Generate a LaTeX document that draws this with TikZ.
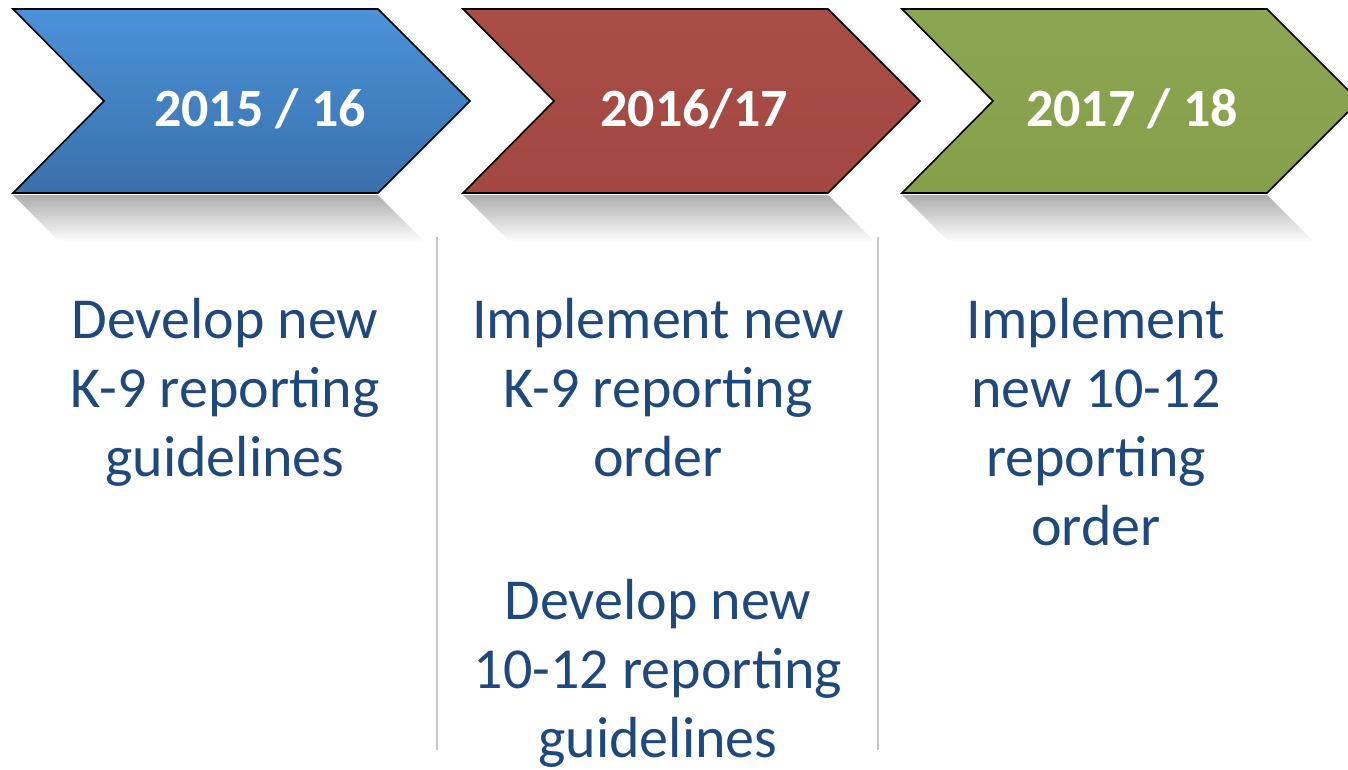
\documentclass[tikz,border=0pt]{standalone}
\usepackage{fontspec}
\setmainfont{Carlito}
\usetikzlibrary{positioning}
\definecolor{txtblue}{HTML}{1F497D}
\definecolor{bluetop}{HTML}{4A92D9}
\definecolor{bluebot}{HTML}{3A70AA}
\definecolor{redtop}{HTML}{A94D47}
\definecolor{redbot}{HTML}{A24741}
\definecolor{greentop}{HTML}{8CA551}
\definecolor{greenbot}{HTML}{869F4B}

\begin{document}
\begin{tikzpicture}[x=1pt,y=-1pt,
    chev/.style={draw=black, line width=1.6pt, line join=miter},
    yearlbl/.style={text=white, inner sep=0pt, anchor=base,
        font=\fontsize{54}{60}\selectfont\bfseries},
    body/.style={text=txtblue, inner sep=0pt, anchor=north, align=center,
        font=\fontsize{58}{69}\selectfont},
    sep/.style={draw=black!22, line width=2.5pt}]

\useasboundingbox (0,0) rectangle (1348,769);

% Reflections under the chevrons
\foreach \x in {13,463,902}
    \shade[top color=black!32, bottom color=white]
        (\x,195) -- (\x+365,195) -- (\x+412,242) -- (\x+47,242) -- cycle;

% Chevrons
\foreach \x/\c in {13/blue, 463/red, 902/green}
    \draw[chev, top color=\c top, bottom color=\c bot]
        (\x,9) -- (\x+365,9) -- (\x+457,101) -- (\x+365,193)
        -- (\x,193) -- (\x+91,101) -- cycle;

% Years
\node[yearlbl] (yr1) at (260,126) {2015 / 16};
\node[yearlbl] (yr2) at (694,126) {2016/17};
\node[yearlbl] (yr3) at (1132,126) {2017 / 18};

% Separators
\draw[sep] (437,237) -- (437,750);
\draw[sep] (878,237) -- (878,750);

% Tasks
\node[body] (task1) at (225,298) {Develop new\\K-9 reporting\\guidelines};
\node[body] (task2) at (658,298) {Implement new\\K-9 reporting\\order};
\node[body, below=102pt of task2] (task2b) {Develop new\\10-12 reporting\\guidelines};
\node[body] (task3) at (1096,298) {Implement\\new 10-12\\reporting\\order};

\end{tikzpicture}
\end{document}
